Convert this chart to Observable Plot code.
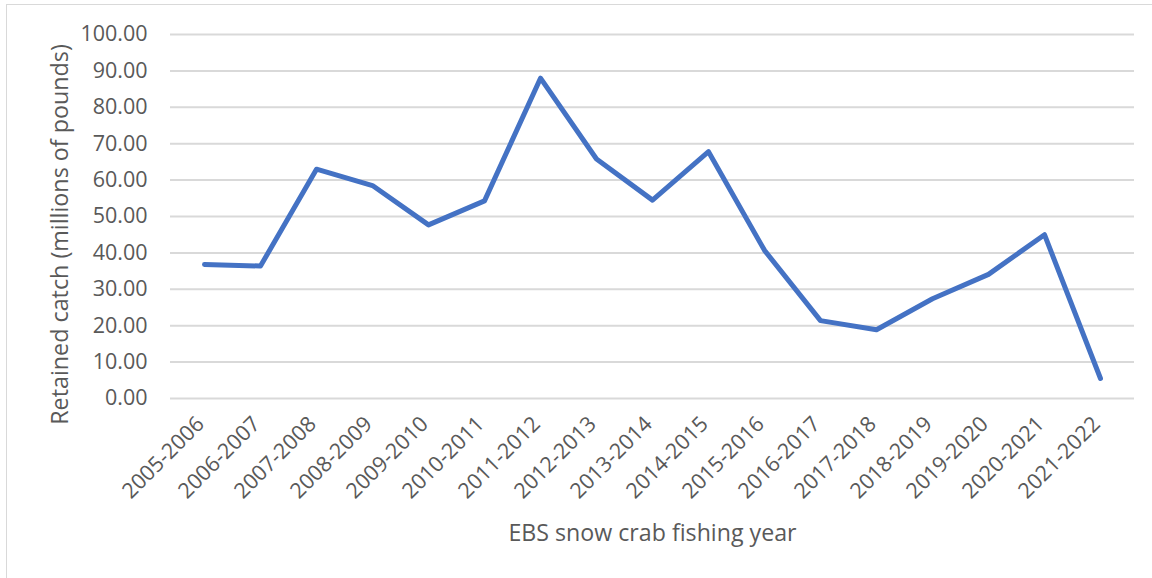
<!DOCTYPE html>
<html>
<head>
<meta charset="utf-8">
<script src="https://cdn.jsdelivr.net/npm/d3@7"></script>
<script src="https://cdn.jsdelivr.net/npm/@observablehq/plot@0.6"></script>
<style>
  html, body { margin: 0; padding: 0; background: #fff; }
  #wrap { position: relative; width: 1152px; height: 578px; overflow: hidden; }
  #frame { position: absolute; left: 6px; top: 4px; width: 1160px; height: 600px; border: 1.5px solid #d9d9d9; box-sizing: border-box; pointer-events: none; }
</style>
</head>
<body>
<div id="wrap"><div id="frame"></div></div>
<script>
const years = ["2005-2006","2006-2007","2007-2008","2008-2009","2009-2010","2010-2011","2011-2012","2012-2013","2013-2014","2014-2015","2015-2016","2016-2017","2017-2018","2018-2019","2019-2020","2020-2021","2021-2022"];
const retainedCatch = [36.8, 36.4, 63.0, 58.5, 47.7, 54.3, 88.0, 65.8, 54.5, 67.8, 40.7, 21.4, 18.9, 27.4, 34.1, 45.0, 5.5];
const yTicks = [0, 10, 20, 30, 40, 50, 60, 70, 80, 90, 100];
const xTitle = "EBS snow crab fishing year";
const yTitle = "Retained catch (millions of pounds)";

const data = years.map((y, i) => ({year: y, value: retainedCatch[i]}));

const chart = Plot.plot({
  width: 1152,
  height: 578,
  marginLeft: 170,
  marginRight: 18,
  marginTop: 34,
  marginBottom: 180,
  style: {fontFamily: "'Open Sans', sans-serif", fontSize: "22px", color: "#595959", background: "transparent"},
  x: {type: "point", domain: years, padding: 0.5},
  y: {domain: [0, 100]},
  marks: [
    Plot.gridY(yTicks, {stroke: "#d9d9d9", strokeOpacity: 1, strokeWidth: 2}),
    Plot.axisY(yTicks, {tickSize: 0, tickPadding: 23, tickFormat: d => d.toFixed(2), fontSize: 21.5, label: null}),
    Plot.axisX({tickSize: 0, tickRotate: -45, tickPadding: 22, dx: -4, fontSize: 21.5, label: null}),
    Plot.text([yTitle], {frameAnchor: "left", rotate: -90, textAnchor: "middle", lineAnchor: "middle",
      dx: -110, dy: 18, fontSize: 23.3, fill: "#595959"}),
    Plot.text([xTitle], {frameAnchor: "bottom", textAnchor: "middle", lineAnchor: "middle",
      dy: 135, fontSize: 23.2, fill: "#595959"}),
    Plot.lineY(data, {x: "year", y: "value", stroke: "#4472C4", strokeWidth: 5, strokeLinejoin: "round", strokeLinecap: "round"})
  ]
});
document.getElementById("wrap").prepend(chart);
</script>
</body>
</html>
